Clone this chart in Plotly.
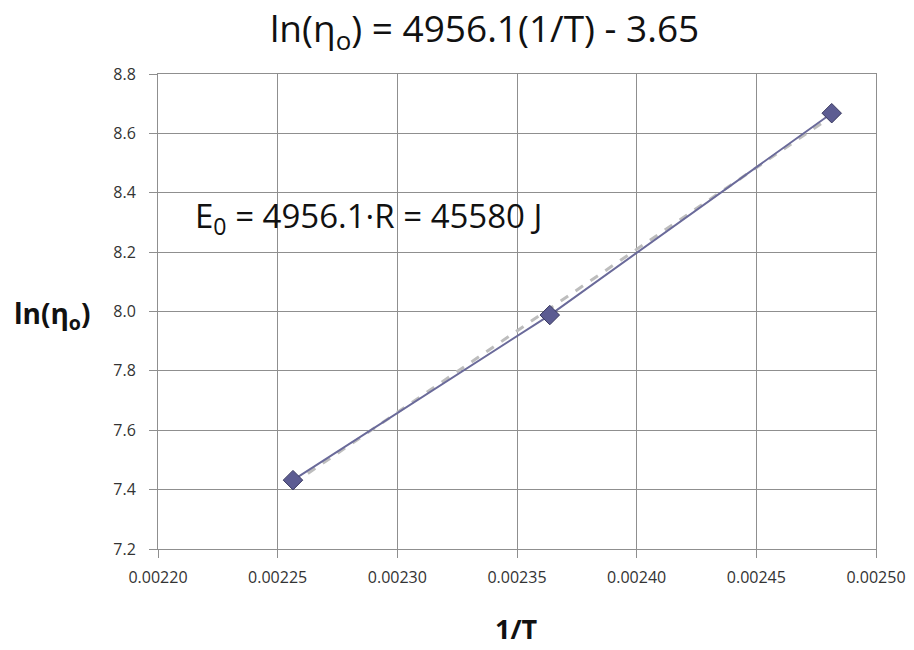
import numpy as np
import plotly.graph_objects as go

inv_T = [0.0022564, 0.0023637, 0.0024815]
ln_eta = [7.432, 7.988, 8.668]
x_ticks = [0.00220, 0.00225, 0.00230, 0.00235, 0.00240, 0.00245, 0.00250]
y_ticks = [7.2, 7.4, 7.6, 7.8, 8.0, 8.2, 8.4, 8.6, 8.8]

slope, intercept = np.polyfit(inv_T, ln_eta, 1)
trend_x = [min(inv_T), max(inv_T)]
trend_y = [slope * v + intercept for v in trend_x]

font = "Open Sans, Noto Sans, sans-serif"

fig = go.Figure()
fig.add_trace(go.Scatter(x=trend_x, y=trend_y, mode="lines",
                         line=dict(color="#bdbdbd", width=3, dash="dash"),
                         showlegend=False, hoverinfo="skip"))
fig.add_trace(go.Scatter(x=inv_T, y=ln_eta, mode="lines+markers",
                         line=dict(color="#6a6a9a", width=2),
                         marker=dict(symbol="diamond", size=15, color="#5c5c92",
                                     line=dict(color="#3a3a60", width=1)),
                         showlegend=False))

fig.update_layout(
    width=914, height=650,
    margin=dict(l=158, r=38, t=74, b=101),
    paper_bgcolor="white", plot_bgcolor="white",
    font=dict(family=font, color="#222"),
    xaxis=dict(range=[0.00220, 0.00250], tickvals=x_ticks,
               ticktext=[f"{v:.5f}" for v in x_ticks],
               showgrid=True, gridcolor="#8f8f8f", gridwidth=1,
               showline=True, linecolor="#8f8f8f", linewidth=1, mirror=True,
               ticks="outside", ticklen=8, tickcolor="#8f8f8f",
               ticklabelstandoff=6, automargin=False,
               tickfont=dict(size=16, color="#333"), zeroline=False),
    yaxis=dict(range=[7.2, 8.8], tickvals=y_ticks,
               ticktext=[f"{v:.1f}" for v in y_ticks],
               showgrid=True, gridcolor="#8f8f8f", gridwidth=1,
               showline=True, linecolor="#8f8f8f", linewidth=1, mirror=True,
               ticks="outside", ticklen=8, tickcolor="#8f8f8f",
               ticklabelstandoff=10, automargin=False,
               tickfont=dict(size=16, color="#333"), zeroline=False),
)

fig.add_annotation(text="ln(η<sub>o</sub>) = 4956.1(1/T) - 3.65", xref="paper", yref="paper",
                   x=0.455, y=1.0926, xanchor="center", yanchor="middle",
                   showarrow=False, font=dict(size=37, color="#111", family=font))
fig.add_annotation(text="<b>1/T</b>", xref="paper", yref="paper",
                   x=0.499, y=-0.168, xanchor="center", yanchor="middle",
                   showarrow=False, font=dict(size=27, color="#111", family=font))
fig.add_annotation(text="<b>ln(η<sub>o</sub>)</b>", xref="paper", yref="paper",
                   x=-0.148, y=0.4926, xanchor="center", yanchor="middle",
                   showarrow=False, font=dict(size=28, color="#111", family=font))
fig.add_annotation(text="E<sub>0</sub> = 4956.1·R = 45580 J", xref="paper", yref="paper",
                   x=0.0487, y=0.697, xanchor="left", yanchor="middle",
                   showarrow=False, font=dict(size=33, color="#111", family=font))

fig.write_html("out.html")
